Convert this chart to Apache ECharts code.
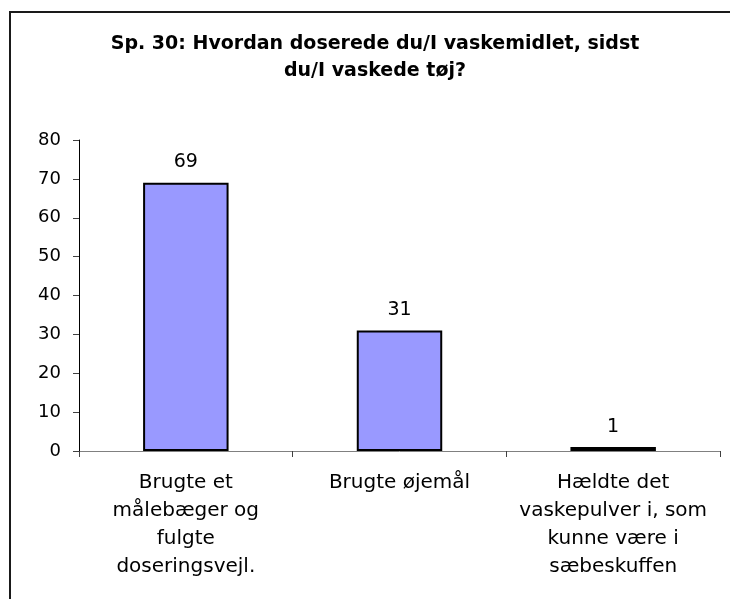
<!DOCTYPE html>
<html>
<head>
<meta charset="utf-8">
<script src="https://cdn.jsdelivr.net/npm/echarts@6/dist/echarts.min.js"></script>
<style>
  html, body { margin: 0; padding: 0; background: #fff; }
  #chart { width: 730px; height: 599px; }
</style>
</head>
<body>
<div id="chart"></div>
<script>
const titleText = 'Sp. 30: Hvordan doserede du/I vaskemidlet, sidst\ndu/I vaskede tøj?'
const categories = [
  'Brugte et\nmålebæger og\nfulgte\ndoseringsvejl.',
  'Brugte øjemål',
  'Hældte det\nvaskepulver i, som\nkunne være i\nsæbeskuffen'
]
const values = [69, 31, 1]
const yTicks = [0, 10, 20, 30, 40, 50, 60, 70, 80]

const font = '"DejaVu Sans", Verdana, sans-serif'
const chart = echarts.init(document.getElementById('chart'))

let option = {
  backgroundColor: '#fff',
  animation: false,
  graphic: [
    {
      type: 'rect',
      shape: { x: 10, y: 12, width: 760, height: 640 },
      style: { fill: 'none', stroke: '#1a1a1a', lineWidth: 2 },
      z: 100
    },
    {
      type: 'text',
      x: 375,
      y: 31,
      style: {
        text: titleText,
        align: 'center',
        fontFamily: font,
        fontWeight: 'bold',
        fontSize: 19,
        lineHeight: 27,
        fill: '#000'
      }
    }
  ],
  grid: {
    left: 79,
    right: 10,
    top: 140,
    bottom: 148
  },
  xAxis: {
    type: 'category',
    data: categories,
    axisLine: { lineStyle: { color: '#808080', width: 1 } },
    axisTick: { show: true, alignWithLabel: false, length: 6, lineStyle: { color: '#404040' } },
    axisLabel: {
      interval: 0,
      margin: 18,
      fontFamily: font,
      fontSize: 20,
      lineHeight: 28,
      color: '#000'
    }
  },
  yAxis: {
    type: 'value',
    min: yTicks[0],
    max: yTicks[yTicks.length - 1],
    interval: 10,
    splitLine: { show: false },
    axisLine: { show: true, lineStyle: { color: '#000', width: 1 } },
    axisTick: { show: true, length: 6, lineStyle: { color: '#404040' } },
    axisLabel: {
      margin: 18,
      fontFamily: font,
      fontSize: 18,
      color: '#000'
    }
  },
  series: [
    {
      type: 'bar',
      data: values,
      barWidth: '40%',
      itemStyle: {
        color: '#9999FF',
        borderColor: '#000',
        borderWidth: 2
      },
      label: {
        show: true,
        position: 'top',
        distance: 11,
        fontFamily: font,
        fontSize: 19,
        color: '#000'
      }
    }
  ]
}
chart.setOption(option)
</script>
</body>
</html>
